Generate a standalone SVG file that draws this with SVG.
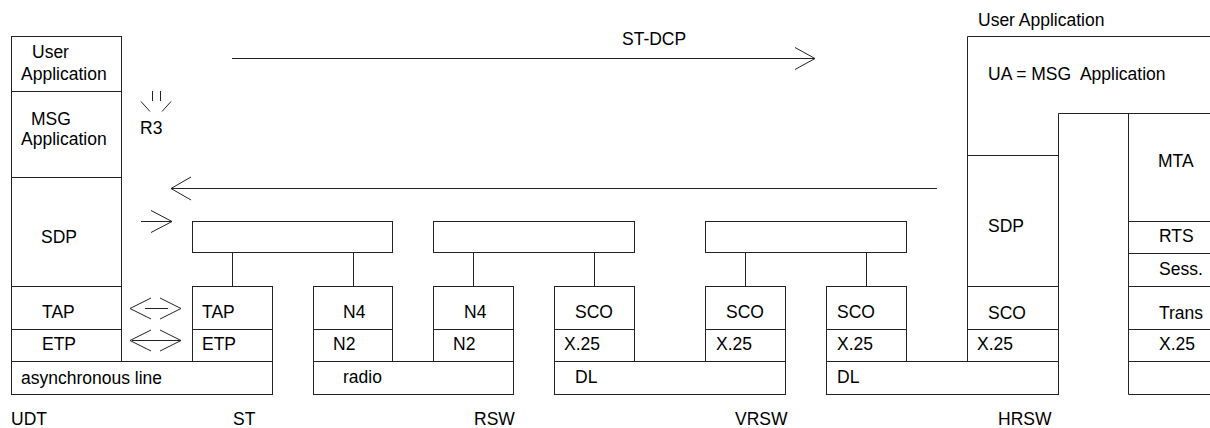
<svg xmlns="http://www.w3.org/2000/svg" width="1210" height="428" viewBox="0 0 1210 428">
<style>
.s{fill:none;stroke:#222;stroke-width:1}
text{font-family:"Liberation Sans",Arial,sans-serif;font-size:17.5px;fill:#000;white-space:pre}
</style>
<rect width="1210" height="428" fill="#fff"/>
<g id="udt">
<rect class="s" x="11.5" y="36.5" width="110" height="325"/>
<path class="s" d="M11.5 91.5H121.5M11.5 177.5H121.5M11.5 286.5H121.5M11.5 329.5H121.5"/>
<text x="32" y="58">User</text><text x="21" y="80">Application</text>
<text x="31" y="125">MSG</text><text x="21" y="145">Application</text>
<text x="41" y="243">SDP</text>
<text x="42" y="318">TAP</text><text x="42" y="350">ETP</text>
</g>
<g id="async-line">
<rect class="s" x="11.5" y="361.5" width="261" height="33"/>
<text x="21" y="384">asynchronous line</text>
</g>
<g id="st">
<rect class="s" x="192.5" y="286.5" width="80" height="75"/>
<path class="s" d="M192.5 329.5H272.5"/>
<text x="202" y="318">TAP</text><text x="202" y="350">ETP</text>
</g>
<g id="box1"><rect class="s" x="192.5" y="221.5" width="200" height="31"/></g>
<g id="rsw-n4a">
<rect class="s" x="313.5" y="286.5" width="79" height="75"/>
<path class="s" d="M313.5 329.5H392.5"/>
<text x="343" y="318">N4</text><text x="333" y="350">N2</text>
</g>
<g id="radio">
<rect class="s" x="313.5" y="361.5" width="200" height="33"/>
<text x="343" y="383">radio</text>
</g>
<g id="box2"><rect class="s" x="433.5" y="221.5" width="201" height="31"/></g>
<g id="rsw-n4b">
<rect class="s" x="433.5" y="286.5" width="80" height="75"/>
<path class="s" d="M433.5 329.5H513.5"/>
<text x="464" y="318">N4</text><text x="453" y="350">N2</text>
</g>
<g id="sco1">
<rect class="s" x="554.5" y="286.5" width="80" height="75"/>
<path class="s" d="M554.5 329.5H634.5"/>
<text x="575" y="318">SCO</text><text x="564" y="350">X.25</text>
</g>
<g id="dl1">
<rect class="s" x="554.5" y="361.5" width="231" height="33"/>
<text x="575" y="383">DL</text>
</g>
<g id="box3"><rect class="s" x="705.5" y="221.5" width="201" height="31"/></g>
<g id="sco2">
<rect class="s" x="705.5" y="286.5" width="80" height="75"/>
<path class="s" d="M705.5 329.5H785.5"/>
<text x="726" y="318">SCO</text><text x="716" y="350">X.25</text>
</g>
<g id="sco3">
<rect class="s" x="826.5" y="286.5" width="80" height="75"/>
<path class="s" d="M826.5 329.5H906.5"/>
<text x="837" y="318">SCO</text><text x="837" y="350">X.25</text>
</g>
<g id="dl2">
<rect class="s" x="826.5" y="361.5" width="232" height="33"/>
<text x="837" y="383">DL</text>
</g>
<g id="hrsw">
<path class="s" d="M967.5 361.5V36.5H1210M967.5 155.5H1058.5M1058.5 394.5V113.5H1210M967.5 286.5H1058.5M967.5 329.5H1058.5"/>
<text x="978" y="26">User Application</text>
<text x="988" y="80">UA = MSG  Application</text>
<text x="988" y="232">SDP</text>
<text x="988" y="319">SCO</text><text x="977" y="350">X.25</text>
</g>
<g id="mta-stack">
<path class="s" d="M1128.5 113.5V394.5H1210M1128.5 221.5H1210M1128.5 253.5H1210M1128.5 286.5H1210M1128.5 329.5H1210M1128.5 361.5H1210"/>
<text x="1158" y="167">MTA</text>
<text x="1159" y="242">RTS</text>
<text x="1159" y="275">Sess.</text>
<text x="1159" y="319">Trans</text>
<text x="1159" y="350">X.25</text>
</g>
<g id="connectors">
<path class="s" d="M232.5 252.5V286.5M353.5 252.5V286.5M473.5 252.5V286.5M594.5 252.5V286.5M745.5 252.5V286.5M866.5 252.5V286.5"/>
<path class="s" d="M232 58.5H815M795 47.5L815 58.5L795 69.5"/>
<path class="s" d="M937 188.5H171M191 177L171 188.5L191 200"/>
<path class="s" d="M141 221.5H172M151 210.5L172 221.5L151 232.5"/>
<path class="s" d="M145 308.5H168M151 298L130 308.5L151 319M160 298L181 308.5L160 319"/>
<path class="s" d="M132 340.5H180M151 330L130 340.5L151 351M160 330L181 340.5L160 351"/>
<path class="s" d="M152.5 91V101M160.5 91V101M141 101.5L150 111.5M171 101.5L162 111.5"/>
<text x="622" y="45">ST-DCP</text>
<text x="140" y="134">R3</text>
</g>
<g id="labels">
<text x="11" y="425">UDT</text>
<text x="233" y="425">ST</text>
<text x="474" y="425">RSW</text>
<text x="735" y="425">VRSW</text>
<text x="998" y="425">HRSW</text>
</g>
</svg>
